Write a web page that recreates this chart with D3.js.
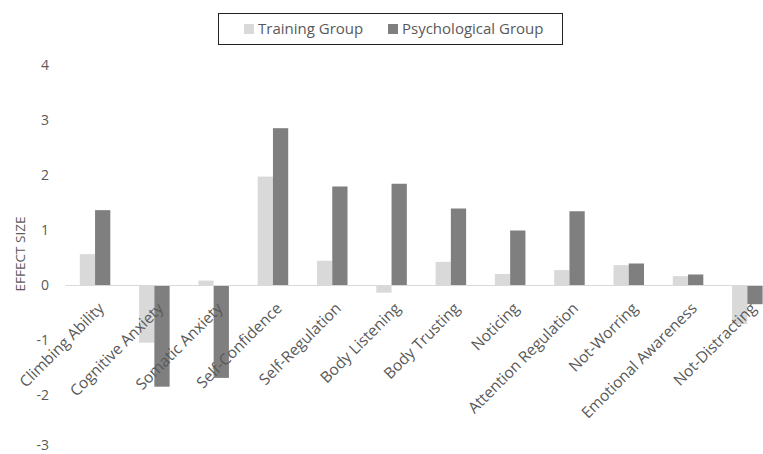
<!DOCTYPE html>
<html>
<head>
<meta charset="utf-8">
<script src="https://cdn.jsdelivr.net/npm/d3@7"></script>
<style>
  html, body { margin: 0; padding: 0; background: #fff; }
  svg { display: block; font-family: "Open Sans", "Liberation Sans", sans-serif; }
</style>
</head>
<body>
<svg id="chart" width="763" height="454"></svg>
<script>
// Effect sizes per measure for each group
const categories = [
  "Climbing Ability", "Cognitive Anxiety", "Somatic Anxiety", "Self-Confidence",
  "Self-Regulation", "Body Listening", "Body Trusting", "Noticing",
  "Attention Regulation", "Not-Worring", "Emotional Awareness", "Not-Distracting"
];
const trainingGroup = [0.57, -1.04, 0.09, 1.98, 0.45, -0.13, 0.43, 0.21, 0.28, 0.37, 0.17, -0.70];
const psychologicalGroup = [1.37, -1.84, -1.68, 2.86, 1.80, 1.85, 1.40, 1.00, 1.35, 0.40, 0.20, -0.34];
const seriesNames = ["Training Group", "Psychological Group"];
const yTicks = [4, 3, 2, 1, 0, -1, -2, -3];

const colors = ["#d9d9d9", "#7f7f7f"];
const textColor = "#595959";

const svg = d3.select("#chart");

const plotLeft = 65.4, step = 59.3;
const x = d3.scaleBand()
  .domain(categories)
  .range([plotLeft, plotLeft + step * categories.length])
  .paddingInner(0.485)
  .paddingOuter(0.2425);

const y = d3.scaleLinear().domain([-3, 4]).range([450.5, 65.5]);

const inner = d3.scaleBand().domain(seriesNames).range([0, x.bandwidth()]);

// y tick labels (no axis line); the bottom one is nudged up to stay inside the canvas
const yAxis = d3.axisLeft(y).tickValues(yTicks).tickSize(0).tickPadding(0)
  .tickFormat(d3.format("d"));
const yg = svg.append("g").attr("transform", "translate(49,0)").call(yAxis);
yg.select(".domain").remove();
yg.selectAll("text")
  .attr("fill", textColor)
  .attr("font-size", 14)
  .attr("font-family", "'Open Sans', sans-serif")
  .attr("dy", d => d === -3 ? "-0.1em" : "0.3em")
  .text(d => d < 0 ? "-" + Math.abs(d) : d);

// Bars
const data = [trainingGroup, psychologicalGroup];
data.forEach((vals, si) => {
  svg.append("g").selectAll("rect")
    .data(vals)
    .join("rect")
    .attr("x", (d, i) => x(categories[i]) + inner(seriesNames[si]))
    .attr("width", inner.bandwidth())
    .attr("y", d => y(Math.max(0, d)))
    .attr("height", d => Math.abs(y(d) - y(0)))
    .attr("fill", colors[si]);
});

// Zero baseline
svg.append("line")
  .attr("x1", plotLeft).attr("x2", 763)
  .attr("y1", y(0)).attr("y2", y(0))
  .attr("stroke", "#d9d9d9").attr("stroke-width", 1.2);

// Category labels, rotated
svg.append("g").selectAll("text")
  .data(categories)
  .join("text")
  .attr("transform", d => `translate(${x(d) + x.bandwidth() / 2 + 6},${y(0) + 20}) rotate(-45)`)
  .attr("text-anchor", "end")
  .attr("dy", "0.35em")
  .attr("fill", textColor)
  .attr("font-size", 15.5)
  .text(d => d);

// Y axis title
svg.append("text")
  .attr("transform", "translate(20,254) rotate(-90)")
  .attr("text-anchor", "middle")
  .attr("dy", "0.35em")
  .attr("fill", textColor)
  .attr("font-size", 13.5)
  .text("EFFECT SIZE");

// Legend
const legend = svg.append("g");
legend.append("rect")
  .attr("x", 218.5).attr("y", 13.5).attr("width", 344).attr("height", 31)
  .attr("fill", "#fff").attr("stroke", "#222").attr("stroke-width", 1);
const legendItems = [
  { name: seriesNames[0], color: colors[0], sx: 244 },
  { name: seriesNames[1], color: colors[1], sx: 388 }
];
legendItems.forEach(it => {
  legend.append("rect")
    .attr("x", it.sx).attr("y", 24).attr("width", 10).attr("height", 10)
    .attr("fill", it.color);
  legend.append("text")
    .attr("x", it.sx + 14).attr("y", 29).attr("dy", "0.35em")
    .attr("fill", textColor).attr("font-size", 15)
    .text(it.name);
});
</script>
</body>
</html>
